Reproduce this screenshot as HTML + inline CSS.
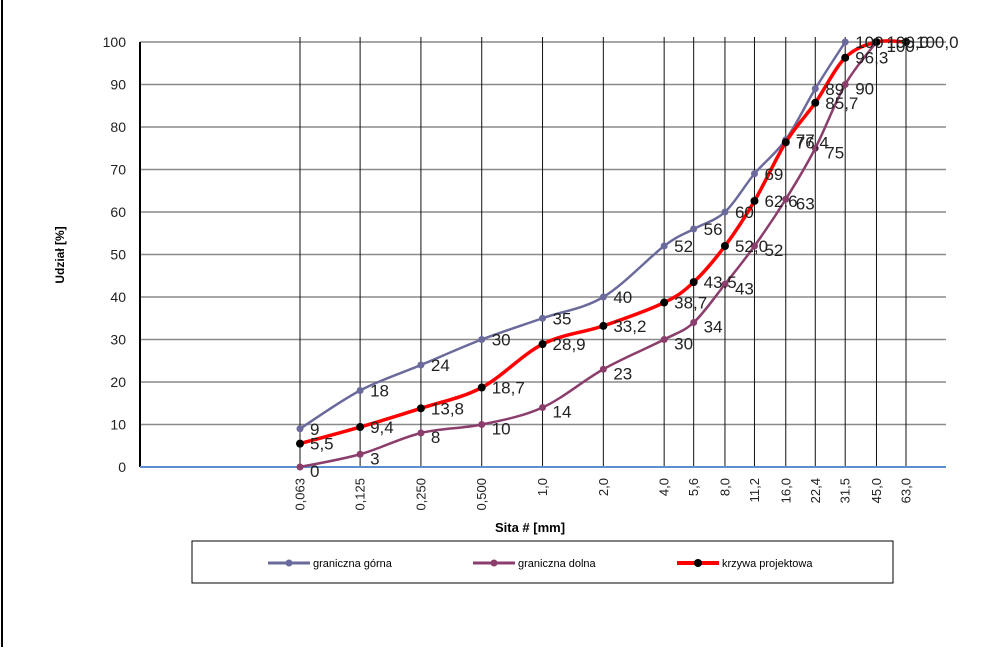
<!DOCTYPE html>
<html><head><meta charset="utf-8"><style>
body{margin:0;background:#fff;}
svg text{font-family:"Liberation Sans",sans-serif;}
</style></head><body>
<svg id="chart" width="1000" height="647" viewBox="0 0 1000 647" xmlns="http://www.w3.org/2000/svg">
<line x1="2" y1="0" x2="2" y2="647" stroke="#000" stroke-width="2"/>
<g id="grid"></g><g id="axes"></g><g id="series"></g><g id="labels"></g>
<text x="530" y="532" text-anchor="middle" font-size="13" font-weight="bold">Sita # [mm]</text>
<text transform="translate(64,255) rotate(-90)" text-anchor="middle" font-size="12" font-weight="bold">Udział [%]</text>
<g>
<rect x="192" y="541" width="701" height="42" fill="#fff" stroke="#000" stroke-width="1"/>
<g><line x1="268" y1="563" x2="310" y2="563" stroke="#6a6a9c" stroke-width="3"/><circle cx="289" cy="563" r="3.5" fill="#6a6a9c"/><text x="313" y="567" font-size="11">graniczna górna</text></g>
<g><line x1="473" y1="563" x2="515" y2="563" stroke="#8b3d6c" stroke-width="3"/><circle cx="494" cy="563" r="3.5" fill="#8b3d6c"/><text x="518" y="567" font-size="11">graniczna dolna</text></g>
<g><line x1="677" y1="563" x2="719" y2="563" stroke="#f00" stroke-width="4"/><circle cx="698" cy="563" r="4" fill="#000"/><text x="722" y="567" font-size="11">krzywa projektowa</text></g>
</g>
</svg>
<script>
const sieves=[0.063,0.125,0.25,0.5,1,2,4,5.6,8,11.2,16,22.4,31.5,45,63];
const sieveLabels=["0,063","0,125","0,250","0,500","1,0","2,0","4,0","5,6","8,0","11,2","16,0","22,4","31,5","45,0","63,0"];
const yTicks=[0,10,20,30,40,50,60,70,80,90,100];
const upper=[9,18,24,30,35,40,52,56,60,69,77,89,100];
const lower=[0,3,8,10,14,23,30,34,43,52,63,75,90,100];
const design=[5.5,9.4,13.8,18.7,28.9,33.2,38.7,43.5,52.0,62.6,76.4,85.7,96.3,100.0,100.0];
const upperLabels=["9","18","24","30","35","40","52","56","60","69","77","89","100"];
const lowerLabels=["0","3","8","10","14","23","30","34","43","52","63","75","90","100"];
const designLabels=["5,5","9,4","13,8","18,7","28,9","33,2","38,7","43,5","52,0","62,6","76,4","85,7","96,3","100,0","100,0"];

const NS="http://www.w3.org/2000/svg";
const X0=300,X1=906,Y0=467,Y1=42,PL=140,PR=946;
function xs(v){return X0+(X1-X0)*Math.log(v/0.063)/Math.log(63/0.063);}
function ys(v){return Y0-(Y0-Y1)*v/100;}
function mk(tag,attrs,parent){const e=document.createElementNS(NS,tag);for(const k in attrs)e.setAttribute(k,attrs[k]);parent.appendChild(e);return e;}
const grid=document.getElementById('grid'),axes=document.getElementById('axes'),series=document.getElementById('series'),labels=document.getElementById('labels');
yTicks.forEach(t=>{
  if(t>0){const l=mk('line',{x1:PL,x2:PR,y1:ys(t),y2:ys(t),stroke:'#8a8a8a','stroke-width':1.5},grid);
  
  }
  const tx=mk('text',{x:126,y:ys(t)+5,'text-anchor':'end','font-size':14,fill:'#222'},axes);tx.textContent=t;
  
  
});
sieves.forEach((s,i)=>{
  const x=xs(s);
  const l=mk('line',{x1:x,x2:x,y1:37,y2:Y0,stroke:'#111','stroke-width':1},grid);
  
  
  const tx=mk('text',{transform:`translate(${x+4.5},478) rotate(-90)`,'text-anchor':'end','font-size':13,fill:'#222'},axes);tx.textContent=sieveLabels[i];
  
  
});
const ya=mk('line',{x1:PL,x2:PL,y1:Y1,y2:Y0,stroke:'#000','stroke-width':2},axes);


const xa=mk('line',{x1:PL,x2:PR,y1:Y0,y2:Y0,stroke:'#5b8fd0','stroke-width':2},axes);


function smooth(pts){let d=`M${pts[0][0]},${pts[0][1]}`;
  for(let i=0;i<pts.length-1;i++){const p0=pts[i-1]||pts[i],p1=pts[i],p2=pts[i+1],p3=pts[i+2]||p2;
    const c1=[p1[0]+(p2[0]-p0[0])/6,p1[1]+(p2[1]-p0[1])/6],c2=[p2[0]-(p3[0]-p1[0])/6,p2[1]-(p3[1]-p1[1])/6];
    d+=` C${c1[0]},${c1[1]} ${c2[0]},${c2[1]} ${p2[0]},${p2[1]}`;}return d;}
function draw(vals,labs,color,w,dot,r,name,dx,dy){
  const pts=vals.map((v,i)=>[xs(sieves[i]),ys(v)]);
  const p=mk('path',{d:smooth(pts),fill:'none',stroke:color,'stroke-width':w},series);
  
  
  pts.forEach((q,i)=>{const c=mk('circle',{cx:q[0],cy:q[1],r:r,fill:dot},series);
    
    
    const t=mk('text',{x:q[0]+dx,y:q[1]+dy,'font-size':17,fill:'#222'},labels);t.textContent=labs[i];
    
    });
}
draw(upper,upperLabels,'#6a6a9c',2.5,'#6a6a9c',3.5,'upper-limit',10,6);
draw(lower,lowerLabels,'#8b3d6c',2.5,'#8b3d6c',3.5,'lower-limit',10,10);
draw(design,designLabels,'#ff0000',3.5,'#000',4,'design-curve',10,6);
</script>
</body></html>
